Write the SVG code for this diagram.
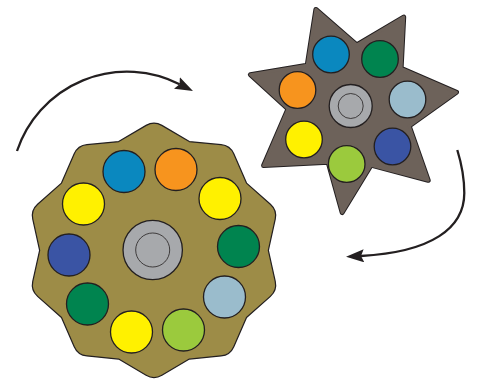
<svg xmlns="http://www.w3.org/2000/svg" xmlns:xlink="http://www.w3.org/1999/xlink" width="478" height="387" viewBox="0 0 478 387">
<style>
.ol{stroke:#231F20;stroke-width:1.2;stroke-linejoin:round}
.dot{stroke:#231F20;stroke-width:1.3}
.hub{fill:#A7A9AC;stroke:#231F20;stroke-width:1.3}
.hubin{fill:#A7A9AC;stroke:#231F20;stroke-width:0.8}
.arrow{fill:none;stroke:#231F20;stroke-width:2.3;marker-end:url(#ah)}
.blue{fill:#0A88BF}.orange{fill:#F7941E}.yellow{fill:#FFF100}.dgreen{fill:#00844F}
.lblue{fill:#9ABCCC}.lgreen{fill:#9BCA3D}.dblue{fill:#3A54A4}
</style>
<defs>
<marker id="ah" markerUnits="userSpaceOnUse" viewBox="0 0 18 13" refX="3" refY="6.5" markerWidth="18" markerHeight="13" orient="auto">
<path d="M0,0 L18,6.5 L0,13 L3,6.5 Z" fill="#231F20"/>
</marker>
<polygon id="star" points="315.9,9.4 356.7,45 403.7,17.1 401.1,68.3 456.5,92.3 409.2,126 428.2,180.3 371,165.2 342.2,212.5 328.1,162.2 263.6,165.6 288,108.9 250.4,74.7 307.2,65.3"/>
</defs>

<g id="connectors">
<path class="arrow" d="M17,151 A116,116 0 0 1 179.6,84.3"/>
<path class="arrow" d="M457.3,150 C461,162 464.3,178 464.3,193 C464.3,228 432,252 361,256"/>
</g>

<g id="gear-large">
<path class="ol" fill="#9D8C47" transform="translate(154,250.3) scale(1.012) translate(-153,-250)" d="M145.23,126.57 Q153,122 160.77,126.57 L187.92,142.53 L219.27,145.58 Q228.24,146.45 231.83,154.7 L244.42,183.58 L268,204.47 Q274.74,210.45 272.8,219.24 L266,250 L272.8,280.76 Q274.74,289.55 268,295.53 L244.42,316.42 L231.83,345.3 Q228.24,353.55 219.27,354.42 L187.92,357.47 L160.77,373.43 Q153,378 145.23,373.43 L118.08,357.47 L86.73,354.42 Q77.76,353.55 74.17,345.3 L61.58,316.42 L38,295.53 Q31.26,289.55 33.2,280.76 L40,250 L33.2,219.24 Q31.26,210.45 38,204.47 L61.58,183.58 L74.17,154.7 Q77.76,146.45 86.73,145.58 L118.08,142.53 Z"/>
<circle class="dot blue" cx="124" cy="171.5" r="21"/>
<circle class="dot orange" cx="176" cy="169.5" r="21"/>
<circle class="dot yellow" cx="220" cy="198.5" r="21"/>
<circle class="dot dgreen" cx="238.5" cy="246.5" r="21"/>
<circle class="dot lblue" cx="224.5" cy="297" r="21"/>
<circle class="dot lgreen" cx="183.5" cy="330" r="21"/>
<circle class="dot yellow" cx="131.5" cy="332" r="21"/>
<circle class="dot dgreen" cx="87.5" cy="304" r="21"/>
<circle class="dot dblue" cx="69" cy="255" r="21"/>
<circle class="dot yellow" cx="83.5" cy="204" r="21"/>
<circle class="hub" cx="152.7" cy="250" r="29.7"/>
<circle class="hubin" cx="152.7" cy="250" r="17"/>
</g>

<g id="gear-small">
<use xlink:href="#star" fill="#6D625A" stroke="#231F20" stroke-width="5" stroke-linejoin="round"/>
<use xlink:href="#star" fill="#6D625A" stroke="#6D625A" stroke-width="3" stroke-linejoin="round"/>
<circle class="dot blue" cx="331" cy="54.5" r="18.3"/>
<circle class="dot dgreen" cx="380" cy="59" r="18.3"/>
<circle class="dot lblue" cx="407.5" cy="99.5" r="18.3"/>
<circle class="dot dblue" cx="392.5" cy="146.5" r="18.3"/>
<circle class="dot lgreen" cx="346.7" cy="164" r="18.3"/>
<circle class="dot yellow" cx="304" cy="139.5" r="18.3"/>
<circle class="dot orange" cx="297.5" cy="90" r="18.3"/>
<circle class="hub" cx="350.7" cy="106" r="21.5"/>
<circle class="hubin" cx="350.7" cy="106" r="12.5"/>
</g>
</svg>
